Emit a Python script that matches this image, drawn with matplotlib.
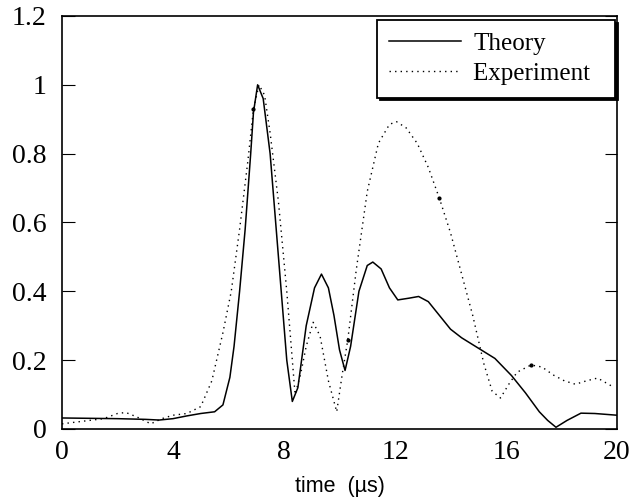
import matplotlib
matplotlib.use('Agg')
import matplotlib.pyplot as plt

# Theory (solid line)
t_theory = [0, 1, 2, 3, 3.5, 4, 4.5, 5, 5.5, 5.8, 6.05, 6.2, 6.4, 6.6, 6.8, 6.9,
            7.05, 7.25, 7.5, 7.8, 8.1, 8.3, 8.5, 8.8, 9.1, 9.35, 9.6, 9.8, 10.0,
            10.2, 10.4, 10.7, 11.0, 11.2, 11.5, 11.8, 12.1, 12.5, 12.85, 13.2,
            13.6, 14.0, 14.4, 15.0, 15.6, 16.2, 16.7, 17.2, 17.5, 17.8, 18.2,
            18.7, 19.2, 20]
y_theory = [0.032, 0.031, 0.030, 0.028, 0.026, 0.030, 0.038, 0.045, 0.050, 0.07,
            0.15, 0.24, 0.40, 0.58, 0.80, 0.92, 1.0, 0.96, 0.80, 0.50, 0.20, 0.08,
            0.12, 0.30, 0.41, 0.45, 0.41, 0.33, 0.23, 0.17, 0.24, 0.40, 0.475,
            0.485, 0.465, 0.41, 0.375, 0.38, 0.385, 0.37, 0.33, 0.29, 0.265,
            0.235, 0.205, 0.155, 0.105, 0.05, 0.025, 0.005, 0.025, 0.046, 0.045,
            0.040]

# Experiment (dotted line)
t_exp = [0, 0.5, 1, 1.5, 2, 2.3, 2.7, 3.2, 3.6, 4.0, 4.5, 5.0, 5.4, 5.8, 6.1,
         6.4, 6.7, 6.9, 7.1, 7.3, 7.5, 7.8, 8.1, 8.4, 8.6, 8.8, 9.05, 9.3, 9.6,
         9.9, 10.1, 10.3, 10.6, 11.0, 11.4, 11.8, 12.05, 12.4, 12.8, 13.2, 13.6,
         14.0, 14.4, 14.8, 15.2, 15.5, 15.8, 16.1, 16.4, 16.9, 17.3, 17.7, 18.1,
         18.5, 18.9, 19.3, 19.8]
y_exp = [0.015, 0.02, 0.025, 0.03, 0.045, 0.048, 0.035, 0.015, 0.03, 0.04, 0.045,
         0.065, 0.14, 0.28, 0.40, 0.58, 0.78, 0.93, 1.0, 0.97, 0.86, 0.66, 0.40,
         0.10, 0.16, 0.24, 0.31, 0.27, 0.14, 0.05, 0.16, 0.26, 0.46, 0.69, 0.83,
         0.885, 0.893, 0.875, 0.83, 0.76, 0.67, 0.57, 0.45, 0.33, 0.19, 0.11,
         0.09, 0.13, 0.165, 0.186, 0.18, 0.157, 0.14, 0.13, 0.14, 0.148, 0.125]

# a few heavier dots on the experiment curve
t_dots = [6.9, 10.3, 13.6, 16.9]
y_dots = [0.93, 0.26, 0.67, 0.186]

x_ticks = [0, 4, 8, 12, 16, 20]
y_ticks = [0, 0.2, 0.4, 0.6, 0.8, 1, 1.2]
y_labels = ['0', '0.2', '0.4', '0.6', '0.8', '1', '1.2']

fig = plt.figure(figsize=(6.35, 4.99), dpi=100)
ax = fig.add_axes([0.0976, 0.1403, 0.8741, 0.8277])

ax.plot(t_theory, y_theory, color='black', lw=1.1, label='Theory')
ax.plot(t_exp, y_exp, color='black', lw=1.0, ls=(0, (1, 3)), label='Experiment\u2002')
ax.plot(t_dots, y_dots, ls='none', marker='o', ms=2, color='black')

ax.set_xlim(0, 20)
ax.set_ylim(0, 1.2)
ax.set_xticks(x_ticks)
ax.set_xticklabels([str(v) for v in x_ticks], family='Liberation Serif', fontsize=20)
ax.set_yticks(y_ticks)
ax.set_yticklabels(y_labels, family='Liberation Serif', fontsize=20)
ax.tick_params(axis='x', length=0, pad=8)
ax.tick_params(axis='y', direction='in', length=9, right=True, pad=11)
for s in ax.spines.values():
    s.set_linewidth(1.2)

ax.set_xlabel('time  (\u00b5s)', family='Liberation Sans', fontsize=15.5, labelpad=8)

leg = ax.legend(loc='upper right', bbox_to_anchor=(0.9964, 0.990),
                borderaxespad=0,
                prop={'family': 'Liberation Serif', 'size': 18},
                handlelength=2.85, handletextpad=0.5, borderpad=0.5,
                labelspacing=0.3, fancybox=False, framealpha=1,
                edgecolor='black', shadow={'color': 'black', 'alpha': 1})
leg.get_frame().set_linewidth(1.3)

fig.savefig('out.png', dpi=100)
